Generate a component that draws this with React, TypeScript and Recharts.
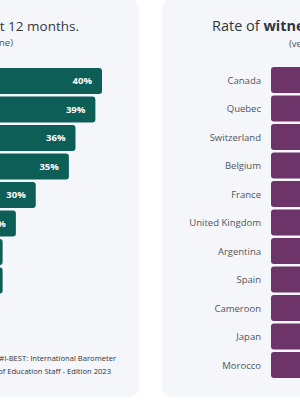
import React from "react"
import { Bar, BarChart, LabelList, XAxis, YAxis } from "recharts"

// left panel (victims) - only the right part of it is visible
const victimRows = ["r1", "r2", "r3", "r4", "r5", "r6", "r7", "r8"]
const victimRates = [40, 39, 36, 35, 30, 27, 25, 25]

// right panel (witnesses)
const countries = [
  "Canada",
  "Quebec",
  "Switzerland",
  "Belgium",
  "France",
  "United Kingdom",
  "Argentina",
  "Spain",
  "Cameroon",
  "Japan",
  "Morocco",
]
const witnessRates = [62, 60, 58, 57, 55, 54, 52, 50, 48, 45, 42]

const leftData = victimRows.map((row, i) => ({ row, value: victimRates[i] }))
const rightData = countries.map((country, i) => ({ country, value: witnessRates[i] }))

const FONT = "'Open Sans', sans-serif"
const PANEL = "#f4f6fa"

export default function App() {
  return (
    <div
      style={{
        position: "relative",
        width: 300,
        height: 400,
        overflow: "hidden",
        background: "#ffffff",
        fontFamily: FONT,
      }}
    >
      <style>{`body{margin:0}`}</style>
      {/* panels */}
      <div style={{ position: "absolute", left: -300, top: -1, width: 439, height: 398, background: PANEL, borderRadius: 10 }} />
      <div style={{ position: "absolute", left: 162, top: -1, width: 400, height: 398, background: PANEL, borderRadius: 10 }} />

      <div style={{ position: "absolute", left: -163, top: 66.75 }}>
        <BarChart width={265} height={228} data={leftData} layout="vertical" margin={{ top: 0, right: 0, bottom: 0, left: 0 }}>
          <XAxis type="number" domain={[0, 40]} hide />
          <YAxis type="category" dataKey="row" hide />
          <Bar dataKey="value" fill="#0e5e58" barSize={26} radius={3} isAnimationActive={false}>
            <LabelList
              dataKey="value"
              position="insideRight"
              offset={10}
              formatter={(v: number) => `${v}%`}
              fill="#ffffff"
              fontSize={9.5}
              fontWeight={700}
              fontFamily={FONT}
            />
          </Bar>
        </BarChart>
      </div>

      <div style={{ position: "absolute", left: 120.7, top: 65.75 }}>
        <BarChart width={450} height={313.5} data={rightData} layout="vertical" margin={{ top: 0, right: 0, bottom: 0, left: 0 }}>
          <XAxis type="number" domain={[0, 100]} hide />
          <YAxis
            type="category"
            dataKey="country"
            width={150}
            tickLine={false}
            axisLine={false}
            tickMargin={4}
            interval={0}
            tick={{ fontSize: 9.5, fill: "#50555f", fontFamily: FONT }}
          />
          <Bar dataKey="value" fill="#6c3468" barSize={26} radius={3} isAnimationActive={false} />
        </BarChart>
      </div>

      <svg width={300} height={400} style={{ position: "absolute", left: 0, top: 0, pointerEvents: "none" }} fontFamily={FONT}>
        <text x={79} y={31} textAnchor="end" fontSize={13.5} fill="#33363d">
          Rate of victimization in the past 12 months.
        </text>
        <text x={13} y={46} textAnchor="end" fontSize={9.5} fill="#50555f">
          (at least one)
        </text>
        <text x={212} y={31} fontSize={14.5} fill="#33363d">
          Rate of <tspan fontWeight={700}>witnesses</tspan> in the past 12 months.
        </text>
        <text x={289} y={47} fontSize={9.5} fill="#50555f">
          (very often)
        </text>
        <text x={116} y={361} textAnchor="end" fontSize={7.6} fill="#2f3340">
          #I-BEST: International Barometer
        </text>
        <text x={111} y={374} textAnchor="end" fontSize={7.6} fill="#2f3340">
          of Education Staff - Edition 2023
        </text>
      </svg>
    </div>
  )
}
